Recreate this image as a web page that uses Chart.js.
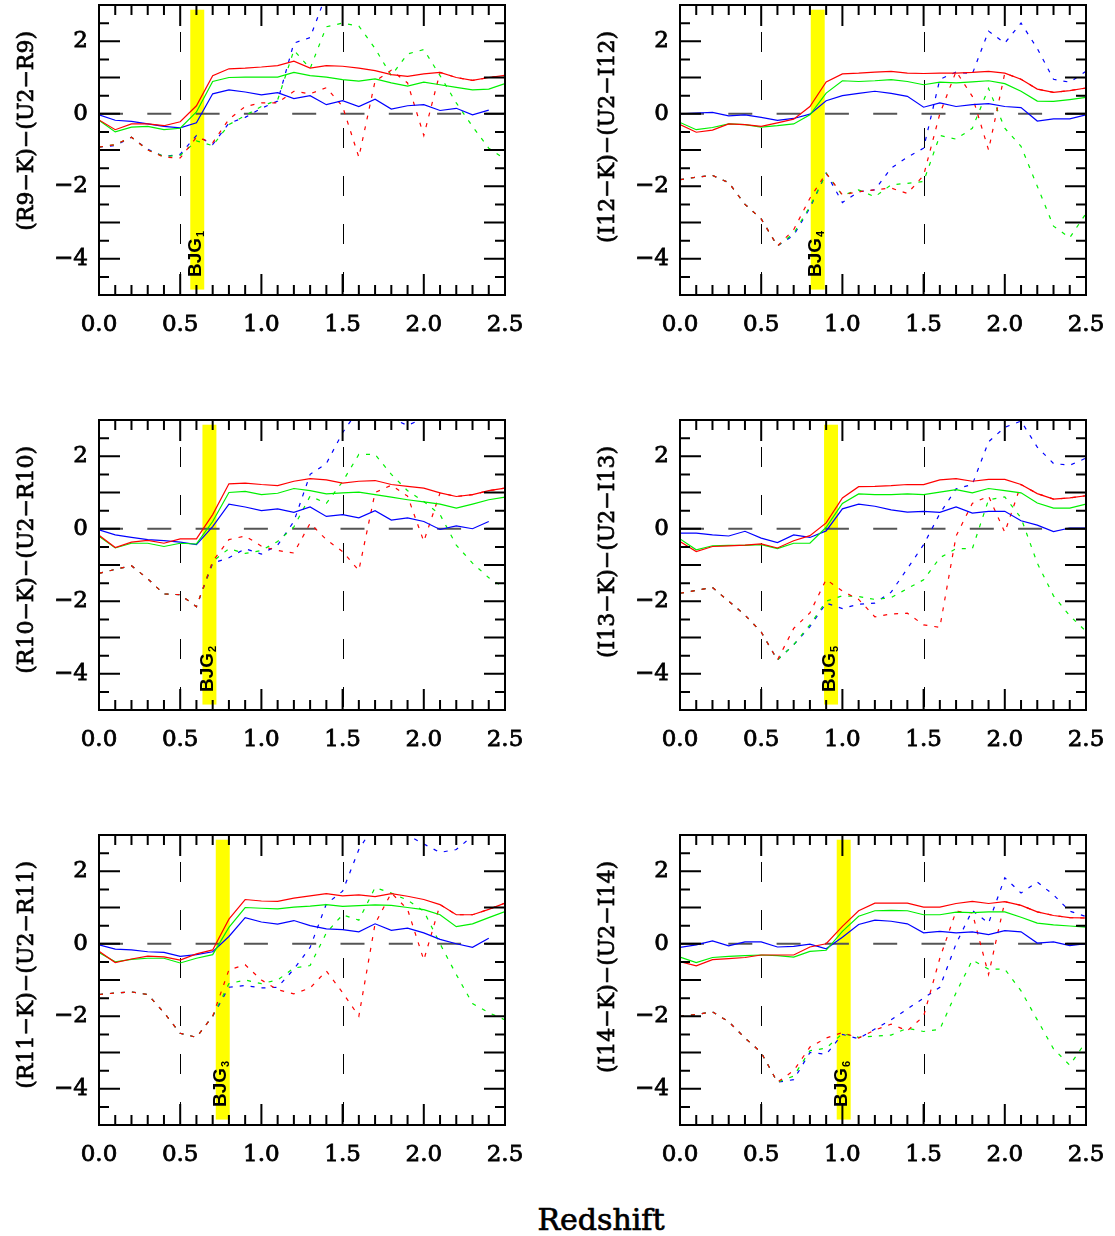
<!DOCTYPE html>
<html>
<head>
<meta charset="utf-8">
<script src="https://cdn.jsdelivr.net/npm/chart.js@4.4.0/dist/chart.umd.min.js"></script>
<style>
  body { margin: 0; background: #fff; }
  #page { position: relative; width: 1115px; height: 1236px; background: #fff; }
  canvas { position: absolute; }
  #xTitle { position: absolute; left: 0; top: 1202px; width: 1202px; text-align: center;
            font: 30px 'DejaVu Serif', serif; line-height: 36px; color: #000;
            -webkit-text-stroke: 0.7px #000; }
</style>
</head>
<body>
<div id="page">
  <canvas id="p1" width="525" height="345" style="left:0px;top:0px"></canvas>
  <canvas id="p2" width="525" height="345" style="left:581px;top:0px"></canvas>
  <canvas id="p3" width="525" height="345" style="left:0px;top:415px"></canvas>
  <canvas id="p4" width="525" height="345" style="left:581px;top:415px"></canvas>
  <canvas id="p5" width="525" height="345" style="left:0px;top:830px"></canvas>
  <canvas id="p6" width="525" height="345" style="left:581px;top:830px"></canvas>
  <div id="xTitle">Redshift</div>
</div>
<script>
// ==========================================================================
// Colour-colour tracks vs redshift, six panels (R9..R11, I12..I14)
// ==========================================================================

// --- shared redshift grid ---
const redshift = [0.0, 0.1, 0.2, 0.3, 0.4, 0.5, 0.6, 0.7, 0.8, 0.9, 1.0, 1.1, 1.2,
                  1.3, 1.4, 1.5, 1.6, 1.7, 1.8, 1.9, 2.0, 2.1, 2.2, 2.3, 2.4, 2.5];

// --- BJG marker redshifts (panel order: R9, I12, R10, I13, R11, I14) ---
const bjgRedshift = [0.605, 0.848, 0.68, 0.93, 0.762, 1.008];
const bjgIndex = ['1', '4', '2', '5', '3', '6'];
const panelTitles = ['(R9−K)−(U2−R9)', '(I12−K)−(U2−I12)', '(R10−K)−(U2−R10)',
                     '(I13−K)−(U2−I13)', '(R11−K)−(U2−R11)', '(I14−K)−(U2−I14)'];

// --- R9 ---
const r9RedSolid = [-0.17,-0.44,-0.28,-0.28,-0.33,-0.22,0.22,1.05,1.24,1.26,1.29,1.33,1.45,1.26,1.33,1.31,1.26,1.19,1.08,1.03,1.10,1.14,1.00,0.92,1.00,1.06];
const r9GreenSolid = [-0.18,-0.50,-0.37,-0.35,-0.44,-0.40,0.05,0.89,1.00,1.01,1.01,1.01,1.14,1.05,1.01,0.94,0.90,0.96,0.85,0.76,0.87,0.80,0.73,0.66,0.68,0.83];
const r9BlueSolid = [-0.03,-0.18,-0.21,-0.28,-0.35,-0.39,-0.25,0.55,0.66,0.60,0.52,0.58,0.42,0.50,0.25,0.36,0.20,0.40,0.13,0.22,0.25,0.09,0.15,-0.03,0.10,null];
const r9RedDotted = [-0.92,-0.85,-0.65,-1.00,-1.20,-1.22,-0.65,-0.80,-0.15,0.20,0.30,0.30,0.62,0.55,0.72,0.20,-1.20,0.90,1.20,0.85,-0.60,1.14,1.00,0.92,1.00,1.06];
const r9GreenDotted = [-0.92,-0.85,-0.65,-1.00,-1.18,-1.15,-0.75,-0.88,-0.30,-0.05,0.20,0.38,1.75,1.25,2.40,2.50,2.42,1.80,1.05,1.65,1.77,1.05,0.30,-0.35,-0.95,-1.25];
const r9BlueDotted = [-0.92,-0.88,-0.65,-0.98,-1.18,-1.12,-0.60,-0.85,-0.26,-0.10,0.15,0.35,1.95,2.10,3.30,3.60,3.60,3.60,3.60,3.60,3.60,3.60,3.60,3.60,3.60,3.60];

// --- I12 ---
const i12RedSolid = [-0.30,-0.51,-0.45,-0.28,-0.30,-0.35,-0.25,-0.15,0.20,0.88,1.10,1.12,1.15,1.17,1.12,1.11,1.12,1.12,1.14,1.17,1.12,0.95,0.68,0.59,0.64,0.71];
const i12GreenSolid = [-0.24,-0.44,-0.38,-0.28,-0.30,-0.37,-0.33,-0.28,-0.03,0.57,0.91,0.89,0.91,0.94,0.89,0.80,0.87,0.85,0.88,0.91,0.83,0.62,0.35,0.34,0.39,0.45];
const i12BlueSolid = [0.00,0.02,0.04,-0.06,-0.03,-0.10,-0.18,-0.13,-0.01,0.36,0.50,0.56,0.62,0.56,0.48,0.18,0.30,0.20,0.25,0.28,0.20,0.17,-0.20,-0.14,-0.14,-0.03];
const i12RedDotted = [-1.82,-1.75,-1.70,-1.90,-2.50,-2.90,-3.65,-3.20,-2.33,-1.64,-2.24,-2.15,-2.10,-2.05,-2.20,-1.70,0.00,1.17,0.48,-1.00,1.12,0.95,0.68,0.59,0.64,0.71];
const i12GreenDotted = [-1.82,-1.75,-1.70,-1.90,-2.50,-2.90,-3.65,-3.30,-2.56,-1.64,-2.25,-2.10,-2.29,-1.96,-1.92,-1.87,-0.60,-0.70,-0.40,0.70,-0.40,-0.90,-2.00,-3.10,-3.42,-2.75];
const i12BlueDotted = [-1.82,-1.75,-1.70,-1.90,-2.50,-2.90,-3.65,-3.35,-2.60,-1.64,-2.45,-2.15,-2.10,-1.50,-1.20,-0.95,0.95,1.15,1.10,2.28,1.95,2.50,1.80,0.95,0.87,1.17];

// --- R10 ---
const r10RedSolid = [-0.18,-0.52,-0.37,-0.32,-0.40,-0.28,-0.28,0.39,1.24,1.26,1.22,1.19,1.31,1.38,1.35,1.26,1.31,1.33,1.22,1.17,1.12,0.99,0.89,0.94,1.05,1.12];
const r10GreenSolid = [-0.21,-0.53,-0.40,-0.40,-0.49,-0.40,-0.42,0.20,1.00,1.03,0.94,0.98,1.11,1.05,0.96,0.99,1.01,0.94,0.87,0.80,0.74,0.68,0.57,0.68,0.80,0.87];
const r10BlueSolid = [-0.03,-0.17,-0.24,-0.30,-0.33,-0.37,-0.44,0.06,0.68,0.60,0.50,0.55,0.45,0.60,0.34,0.39,0.30,0.50,0.24,0.30,0.20,-0.02,0.08,0.00,0.20,null];
const r10RedDotted = [-1.23,-1.12,-1.02,-1.38,-1.80,-1.82,-2.15,-0.90,-0.30,-0.20,-0.48,-0.60,-0.67,0.15,-0.30,-0.63,-1.15,1.00,1.20,0.90,-0.35,0.99,0.89,0.94,1.05,1.12];
const r10GreenDotted = [-1.23,-1.12,-1.02,-1.38,-1.80,-1.82,-2.15,-0.90,-0.55,-0.68,-0.60,-0.35,0.05,0.90,0.70,1.30,2.05,2.05,1.50,1.05,0.75,0.39,-0.45,-0.95,-1.35,-1.64];
const r10BlueDotted = [-1.23,-1.12,-1.02,-1.38,-1.80,-1.82,-2.15,-0.95,-0.80,-0.55,-0.70,-0.45,0.20,1.50,1.80,2.65,3.30,3.40,3.05,2.85,3.05,3.40,3.50,3.50,3.50,3.50];

// --- I13 ---
const i13RedSolid = [-0.35,-0.63,-0.49,-0.47,-0.45,-0.42,-0.53,-0.33,-0.19,0.16,0.85,1.16,1.17,1.19,1.22,1.22,1.35,1.38,1.31,1.36,1.36,1.22,0.97,0.82,0.85,0.91];
const i13GreenSolid = [-0.28,-0.58,-0.47,-0.46,-0.46,-0.44,-0.55,-0.40,-0.40,0.04,0.70,0.96,0.94,0.94,0.96,0.94,1.01,1.08,0.99,1.11,1.05,0.99,0.71,0.57,0.57,0.68];
const i13BlueSolid = [-0.12,-0.12,-0.17,-0.20,-0.07,-0.26,-0.38,-0.17,-0.24,-0.06,0.55,0.68,0.62,0.52,0.46,0.48,0.45,0.60,0.43,0.48,0.48,0.22,0.10,-0.08,0.02,0.02];
const i13RedDotted = [-1.78,-1.70,-1.62,-2.00,-2.38,-2.85,-3.62,-2.75,-2.32,-1.40,-1.72,-1.95,-2.43,-2.35,-2.33,-2.65,-2.72,-0.20,0.70,0.90,-0.10,1.22,0.97,0.82,0.85,0.91];
const i13GreenDotted = [-1.78,-1.70,-1.62,-2.00,-2.38,-2.85,-3.62,-3.20,-2.65,-2.00,-1.85,-1.87,-1.95,-1.90,-1.65,-1.41,-0.80,-0.55,-0.55,0.80,0.88,0.30,-0.95,-1.85,-2.40,-2.83];
const i13BlueDotted = [-1.78,-1.70,-1.62,-2.00,-2.38,-2.85,-3.62,-3.20,-2.70,-2.05,-2.20,-2.08,-2.05,-1.75,-1.10,-0.44,0.42,1.10,1.22,2.40,2.80,2.97,2.25,1.80,1.75,1.95];

// --- R11 ---
const r11RedSolid = [-0.21,-0.52,-0.42,-0.34,-0.36,-0.45,-0.28,-0.17,0.68,1.22,1.18,1.17,1.26,1.32,1.38,1.32,1.35,1.30,1.38,1.31,1.22,1.08,0.80,0.80,0.95,1.12];
const r11GreenSolid = [-0.24,-0.50,-0.43,-0.40,-0.40,-0.53,-0.40,-0.30,0.45,1.00,0.98,0.96,1.01,1.04,1.08,1.03,1.05,1.07,1.06,1.00,0.94,0.80,0.47,0.55,0.72,0.89];
const r11BlueSolid = [-0.03,-0.15,-0.17,-0.22,-0.24,-0.35,-0.30,-0.22,0.20,0.72,0.60,0.54,0.64,0.50,0.41,0.39,0.33,0.55,0.37,0.43,0.30,0.12,0.00,-0.10,0.15,null];
const r11RedDotted = [-1.40,-1.36,-1.33,-1.40,-1.90,-2.47,-2.58,-2.00,-0.72,-0.58,-1.00,-1.27,-1.38,-1.22,-0.75,-1.35,-2.00,0.55,1.40,0.95,-0.45,1.08,0.80,0.80,0.95,1.12];
const r11GreenDotted = [-1.40,-1.36,-1.33,-1.40,-1.90,-2.47,-2.58,-2.00,-1.10,-1.00,-1.10,-1.00,-0.67,-0.60,0.30,0.80,0.65,1.55,1.40,1.20,0.90,0.00,-0.85,-1.65,-1.90,-2.10];
const r11BlueDotted = [-1.40,-1.36,-1.33,-1.40,-1.90,-2.47,-2.58,-2.00,-1.20,-1.15,-1.22,-1.20,-0.70,-0.10,1.10,1.45,2.60,3.30,3.30,3.00,2.75,2.52,2.60,2.97,3.30,3.50];

// --- I14 ---
const i14RedSolid = [-0.49,-0.61,-0.44,-0.41,-0.38,-0.31,-0.31,-0.31,-0.09,0.00,0.48,0.91,1.12,1.12,1.12,1.01,1.01,1.11,1.17,1.11,1.16,1.06,0.88,0.78,0.72,0.71];
const i14GreenSolid = [-0.37,-0.52,-0.38,-0.35,-0.33,-0.31,-0.33,-0.37,-0.21,-0.18,0.34,0.76,0.91,0.92,0.91,0.80,0.80,0.87,0.86,0.88,0.88,0.73,0.57,0.52,0.49,0.46];
const i14BlueSolid = [-0.10,-0.03,0.08,-0.06,0.05,0.05,-0.09,-0.07,-0.01,-0.14,0.18,0.53,0.65,0.62,0.55,0.30,0.34,0.30,0.33,0.25,0.36,0.33,0.02,0.05,-0.05,0.00];
const i14RedDotted = [-2.00,-1.95,-1.88,-2.15,-2.60,-3.00,-3.82,-3.50,-2.85,-2.60,-2.45,-2.60,-2.38,-2.22,-2.40,-2.00,-0.40,0.90,0.85,-0.85,1.16,1.06,0.88,0.78,0.72,0.71];
const i14GreenDotted = [-2.00,-1.95,-1.88,-2.15,-2.60,-3.00,-3.82,-3.65,-2.95,-2.88,-2.48,-2.58,-2.55,-2.52,-2.33,-2.42,-2.36,-1.35,-0.45,-0.70,-0.70,-1.30,-2.10,-2.90,-3.35,-2.70];
const i14BlueDotted = [-2.00,-1.95,-1.88,-2.15,-2.60,-3.00,-3.82,-3.75,-3.00,-3.05,-2.50,-2.62,-2.35,-2.10,-1.80,-1.50,-1.20,0.00,0.92,0.57,1.82,1.40,1.70,1.35,0.90,0.75];

// --- colours / fonts ---
const RED = '#ff0000', GREEN = '#00f000', BLUE = '#0000ff';
const SERIF = "'DejaVu Serif', serif";

// --- panel decorations: band, reference dashes, inward ticks, frame, labels ---
const panelDecor = {
  id: 'panelDecor',
  beforeDatasetsDraw(chart) {
    const { ctx, chartArea: a, scales: { x, y } } = chart;
    const opts = chart.options.plugins.panelDecor;

    // yellow BJG band
    ctx.save();
    ctx.fillStyle = '#ffff00';
    const bx0 = x.getPixelForValue(opts.bjg - 0.043);
    const bx1 = x.getPixelForValue(opts.bjg + 0.043);
    const by0 = y.getPixelForValue(2.87);
    const by1 = y.getPixelForValue(-4.85);
    ctx.fillRect(bx0, by0, bx1 - bx0, by1 - by0);

    // dashed reference lines at z = 0.5, 1.5 and colour = 0
    ctx.strokeStyle = '#000';
    ctx.lineWidth = 1;
    ctx.setLineDash([20, 28]);
    ctx.lineDashOffset = 21;
    [0.5, 1.5].forEach(v => {
      const px = Math.round(x.getPixelForValue(v)) + 0.5;
      ctx.beginPath();
      ctx.moveTo(px, a.top);
      ctx.lineTo(px, a.bottom);
      ctx.stroke();
    });
    ctx.strokeStyle = '#555';
    ctx.lineWidth = 1.8;
    ctx.setLineDash([24, 24.3]);
    ctx.lineDashOffset = 0;
    const py = y.getPixelForValue(0);
    ctx.beginPath();
    ctx.moveTo(a.left, py);
    ctx.lineTo(a.right, py);
    ctx.stroke();
    ctx.restore();
  },
  afterDraw(chart) {
    const { ctx, chartArea: a, scales: { x, y } } = chart;
    const opts = chart.options.plugins.panelDecor;
    ctx.save();
    ctx.strokeStyle = '#000';
    ctx.lineWidth = 2;
    ctx.setLineDash([]);

    // inward ticks: x minor 0.1 / major 0.5, y minor 0.5 / major 1
    ctx.beginPath();
    for (let i = 1; i < 25; i++) {
      const px = x.getPixelForValue(i / 10);
      const len = i % 5 === 0 ? 21 : 10;
      ctx.moveTo(px, a.bottom); ctx.lineTo(px, a.bottom - len);
      ctx.moveTo(px, a.top); ctx.lineTo(px, a.top + len);
    }
    for (let i = -9; i < 6; i++) {
      const py = y.getPixelForValue(i / 2);
      const len = i % 2 === 0 ? 21 : 10;
      ctx.moveTo(a.left, py); ctx.lineTo(a.left + len, py);
      ctx.moveTo(a.right, py); ctx.lineTo(a.right - len, py);
    }
    ctx.stroke();
    ctx.strokeRect(a.left, a.top, a.right - a.left, a.bottom - a.top);

    // y-axis title, top-aligned like the original
    ctx.fillStyle = '#000';
    ctx.save();
    ctx.translate(a.left - 72, a.top + 26);
    ctx.rotate(-Math.PI / 2);
    ctx.font = '22px ' + SERIF;
    ctx.textAlign = 'right';
    ctx.textBaseline = 'middle';
    ctx.lineWidth = 0.7;
    ctx.fillText(opts.title, 0, 0);
    ctx.strokeText(opts.title, 0, 0);
    ctx.restore();

    // BJG label, reading upwards at the foot of the band
    ctx.save();
    ctx.translate(x.getPixelForValue(opts.bjg) + 3.5, a.bottom - 18);
    ctx.rotate(-Math.PI / 2);
    ctx.textAlign = 'left';
    ctx.textBaseline = 'alphabetic';
    ctx.font = "bold 19px 'Liberation Sans', Arial, sans-serif";
    ctx.fillText('BJG', 0, 0);
    const w = ctx.measureText('BJG').width;
    ctx.font = "bold 11px 'Liberation Sans', Arial, sans-serif";
    ctx.fillText(opts.sub, w + 1, 3);
    ctx.restore();

    ctx.restore();
  }
};

function series(values, color, dotted) {
  return {
    data: redshift.map((z, i) => ({ x: z, y: values[i] })),
    borderColor: color,
    borderWidth: 1.2,
    borderDash: dotted ? [4, 7] : [],
    pointRadius: 0,
    tension: 0,
    fill: false,
    clip: 0,
    spanGaps: false
  };
}

function tickFont() {
  return { family: SERIF, size: 23 };
}

function makePanel(canvasId, k, solid, dotted) {
  new Chart(document.getElementById(canvasId), {
    type: 'line',
    data: {
      datasets: [
        series(solid[0], RED, false),
        series(solid[1], GREEN, false),
        series(solid[2], BLUE, false),
        series(dotted[0], RED, true),
        series(dotted[1], GREEN, true),
        series(dotted[2], BLUE, true)
      ]
    },
    options: {
      responsive: false,
      devicePixelRatio: 1,
      animation: false,
      events: [],
      layout: { padding: { left: 0, right: 20, top: 5, bottom: 0 } },
      plugins: {
        legend: { display: false },
        tooltip: { enabled: false },
        panelDecor: { bjg: bjgRedshift[k], sub: bjgIndex[k], title: panelTitles[k] }
      },
      scales: {
        x: {
          type: 'linear', min: 0, max: 2.5,
          grid: { display: false, drawTicks: false },
          border: { display: false },
          ticks: {
            stepSize: 0.5, padding: 16, color: '#000', font: tickFont(),
            textStrokeColor: '#000', textStrokeWidth: 0.8,
            maxRotation: 0, autoSkip: false,
            callback: v => Number(v).toFixed(1)
          },
          afterFit: s => { s.height = 50; s.paddingLeft = 0; s.paddingRight = 0; }
        },
        y: {
          type: 'linear', min: -5, max: 3,
          grid: { display: false, drawTicks: false },
          border: { display: false },
          ticks: {
            stepSize: 1, padding: 11, color: '#000', font: tickFont(),
            textStrokeColor: '#000', textStrokeWidth: 0.8,
            callback: v => (v % 2 === 0 && v > -5 && v < 3) ? (v < 0 ? '−' + Math.abs(v) : String(v)) : ''
          },
          afterFit: s => { s.width = 99; s.paddingTop = 0; s.paddingBottom = 0; }
        }
      }
    },
    plugins: [panelDecor]
  });
}

makePanel('p1', 0, [r9RedSolid, r9GreenSolid, r9BlueSolid], [r9RedDotted, r9GreenDotted, r9BlueDotted]);
makePanel('p2', 1, [i12RedSolid, i12GreenSolid, i12BlueSolid], [i12RedDotted, i12GreenDotted, i12BlueDotted]);
makePanel('p3', 2, [r10RedSolid, r10GreenSolid, r10BlueSolid], [r10RedDotted, r10GreenDotted, r10BlueDotted]);
makePanel('p4', 3, [i13RedSolid, i13GreenSolid, i13BlueSolid], [i13RedDotted, i13GreenDotted, i13BlueDotted]);
makePanel('p5', 4, [r11RedSolid, r11GreenSolid, r11BlueSolid], [r11RedDotted, r11GreenDotted, r11BlueDotted]);
makePanel('p6', 5, [i14RedSolid, i14GreenSolid, i14BlueSolid], [i14RedDotted, i14GreenDotted, i14BlueDotted]);
</script>
</body>
</html>
